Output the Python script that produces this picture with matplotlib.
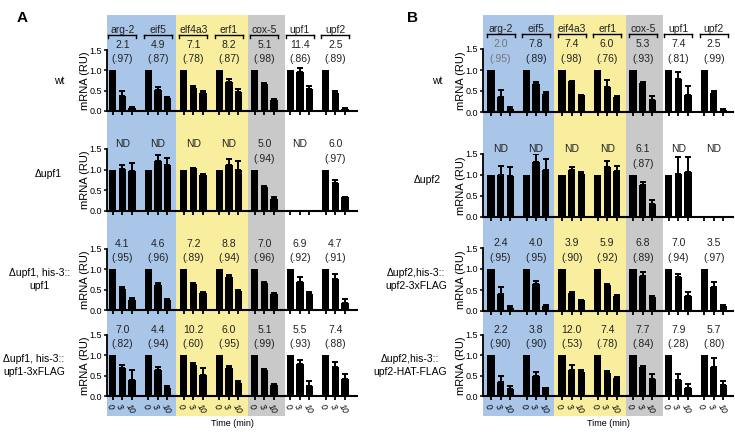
import numpy as np
import matplotlib
matplotlib.use("Agg")
import matplotlib.pyplot as plt

plt.rcParams['font.family'] = ['Liberation Sans', 'DejaVu Sans']

genes_A = ["arg-2", "eif5", "elf4a3", "erf1", "cox-5", "upf1", "upf2"]
genes_B = ["arg-2", "eif5", "eif4a3", "erf1", "cox-5", "upf1", "upf2"]
times = ["0", "3", "10"]

# Panel A values (per gene: 0, 3, 10 min) and upper error bars
A_wt = [[1, .37, .08], [1, .52, .33], [1, .57, .44], [1, .72, .46], [1, .67, .27], [1, .95, .55], [1, .45, .05]]
A_wt_err = [[0, .13, .03], [0, .06, .02], [0, .05, .04], [0, .06, .07], [0, .03, .02], [0, .10, .06], [0, .04, .02]]
A_wt_lbl = ["2.1\n(.97)", "4.9\n(.87)", "7.1\n(.78)", "8.2\n(.87)", "5.1\n(.98)", "11.4\n(.86)", "2.5\n(.89)"]

A_d = [[1, 1.02, .97], [1, 1.21, 1.12], [1, 1.03, .87], [1, 1.11, .99], [1, .58, .30], [0, 0, 0], [1, .67, .34]]
A_d_err = [[0, .10, .20], [0, .14, .16], [0, .02, .02], [0, .16, .21], [0, .03, .04], [0, 0, 0], [0, .09, .01]]
A_d_lbl = ["ND", "ND", "ND", "ND", "5.0\n(.94)", "ND", "6.0\n(.97)"]

A_c1 = [[1, .52, .25], [1, .61, .24], [1, .63, .42], [1, .80, .46], [1, .67, .40], [1, .68, .39], [1, .76, .16]]
A_c1_err = [[0, .05, .05], [0, .06, .02], [0, .04, .03], [0, .06, .03], [0, .01, .02], [0, .13, .05], [0, .12, .10]]
A_c1_lbl = ["4.1\n(.95)", "4.6\n(.96)", "7.2\n(.89)", "8.8\n(.94)", "7.0\n(.96)", "6.9\n(.92)", "4.7\n(.91)"]

A_c2 = [[1, .70, .39], [1, .63, .20], [1, .76, .52], [1, .70, .33], [1, .65, .28], [1, .79, .24], [1, .71, .41]]
A_c2_err = [[0, .06, .24], [0, .08, .05], [0, .04, .18], [0, .05, .03], [0, .01, .01], [0, .09, .12], [0, .12, .12]]
A_c2_lbl = ["7.0\n(.82)", "4.4\n(.94)", "10.2\n(.60)", "6.0\n(.95)", "5.1\n(.99)", "5.5\n(.93)", "7.4\n(.88)"]

# Panel B
B_wt = [[1, .35, .08], [1, .67, .44], [1, .73, .40], [1, .60, .36], [1, .68, .28], [1, .78, .40], [1, .45, .04]]
B_wt_err = [[0, .17, .05], [0, .04, .04], [0, .01, .01], [0, .17, .02], [0, .03, .09], [0, .17, .21], [0, .04, .02]]
B_wt_lbl = ["2.0\n(.95)", "7.8\n(.89)", "7.4\n(.98)", "6.0\n(.76)", "5.3\n(.93)", "7.4\n(.81)", "2.5\n(.99)"]

B_d = [[1, 1.0, .98], [1, 1.32, 1.13], [1, 1.12, 1.02], [1, 1.20, 1.09], [1, .75, .31], [1, 1.02, 1.07], [0, 0, 0]]
B_d_err = [[0, .22, .20], [0, .18, .26], [0, .07, .05], [0, .13, .13], [0, .09, .09], [0, .41, .37], [0, 0, 0]]
B_d_lbl = ["ND", "ND", "ND", "ND", "6.1\n(.87)", "ND", "ND"]

B_c1 = [[1, .40, .07], [1, .64, .13], [1, .44, .26], [1, .61, .35], [1, .84, .33], [1, .82, .35], [1, .57, .12]]
B_c1_err = [[0, .18, .05], [0, .07, .01], [0, .02, .01], [0, .04, .02], [0, .08, .03], [0, .07, .10], [0, .13, .02]]
B_c1_lbl = ["2.4\n(.95)", "4.0\n(.95)", "3.9\n(.90)", "5.9\n(.92)", "6.8\n(.89)", "7.0\n(.94)", "3.5\n(.97)"]

B_c2 = [[1, .34, .17], [1, .49, .23], [1, .65, .58], [1, .57, .44], [1, .71, .42], [1, .40, .19], [1, .72, .28]]
B_c2_err = [[0, .14, .08], [0, .09, .0], [0, .11, .06], [0, .04, .03], [0, .03, .11], [0, .13, .10], [0, .21, .09]]
B_c2_lbl = ["2.2\n(.90)", "3.8\n(.90)", "12.0\n(.53)", "7.4\n(.78)", "7.7\n(.84)", "7.9\n(.28)", "5.7\n(.80)"]

row_labels_A = ["wt", "\u0394upf1", "\u0394upf1, his-3::\nupf1", "\u0394upf1, his-3::\nupf1-3xFLAG"]
row_labels_B = ["wt", "\u0394upf2", "\u0394upf2,his-3::\nupf2-3xFLAG", "\u0394upf2,his-3::\nupf2-HAT-FLAG"]

W, H = 735, 432
fig = plt.figure(figsize=(W / 100, H / 100), dpi=100)

BLUE, YELLOW, GRAY = "#a9c6e8", "#f8ee9e", "#c9c9c9"
GSP = 3.7


def fax(left, top, right, bottom):
    return fig.add_axes([left / W, 1 - bottom / H, (right - left) / W, (bottom - top) / H])


def panel(left, right, xlim, rows_px, rows, labels_row, gene_names, letter, letter_x, lbl_x, gray_first=False):
    bg = fax(left, 15, right, 416)
    bg.set_xlim(*xlim)
    bg.set_ylim(0, 1)
    bg.axis("off")
    bg.axvspan(xlim[0], 6.55, color=BLUE, lw=0)
    bg.axvspan(6.55, 14.1, color=YELLOW, lw=0)
    bg.axvspan(14.1, 17.9, color=GRAY, lw=0)
    bg.set_zorder(0)
    n = len(rows)
    for r, ((y0, y15), (vals, errs, lbls), rl) in enumerate(zip(rows_px, rows, labels_row)):
        ax = fax(left, y15, right, y0)
        ax.set_zorder(1)
        ax.patch.set_alpha(0)
        xs, hs, es = [], [], []
        for g in range(7):
            for t in range(3):
                xs.append(g * GSP + t)
                hs.append(vals[g][t])
                es.append(errs[g][t])
        es = np.array(es)
        ax.bar(xs, hs, width=0.76, color="black", zorder=2)
        mask = es > 0
        ax.errorbar(np.array(xs)[mask], np.array(hs)[mask],
                    yerr=[np.zeros(mask.sum()), es[mask]], fmt="none",
                    ecolor="black", elinewidth=1.4, capsize=2.5, capthick=1.4, zorder=3)
        ax.set_xlim(*xlim)
        ax.set_ylim(0, 1.5)
        ax.set_yticks([0, 0.5, 1.0, 1.5])
        ax.set_yticklabels(["0.0", "0.5", "1.0", "1.5"], fontsize=6.5)
        ax.set_xticks(xs)
        ax.tick_params(axis="x", direction="out", length=3, width=1.3)
        ax.tick_params(axis="y", direction="out", length=2.5, width=1.1, pad=1)
        for s in ("top", "right"):
            ax.spines[s].set_visible(False)
        ax.spines["bottom"].set_linewidth(1.5)
        ax.spines["left"].set_linewidth(1.3)
        ax.set_ylabel("mRNA (RU)", fontsize=8, labelpad=0)
        if r == n - 1:
            ax.set_xticklabels(times * 7, fontsize=6.3, rotation=-60, ha="left",
                               va="top", rotation_mode="anchor", style="italic")
            ax.tick_params(axis="x", pad=2)
        else:
            ax.set_xticklabels([])
        for g in range(7):
            cx = g * GSP + 1
            col = "#222222"
            if gray_first and r == 0 and g == 0:
                col = "#777777"
            txt = lbls[g]
            if txt == "ND":
                ax.text(cx, 1.62, "ND", ha="center", va="center", fontsize=7.5, color=col, clip_on=False)
            else:
                a, b = txt.split("\n")
                ax.text(cx, 1.63, a, ha="center", va="center", fontsize=7.5, color=col, clip_on=False)
                ax.text(cx, 1.27, b, ha="center", va="center", fontsize=7.5, color=col, clip_on=False)
            if r == 0:
                ax.text(cx, 1.98, gene_names[g], ha="center", va="center", fontsize=7.5, color="#222222", clip_on=False)
                ax.plot([g * GSP - 0.45, g * GSP + 2.45], [1.86, 1.86], color="black", lw=1.0, clip_on=False)
                ax.plot([g * GSP - 0.45, g * GSP - 0.45], [1.86, 1.79], color="black", lw=1.0, clip_on=False)
                ax.plot([g * GSP + 2.45, g * GSP + 2.45], [1.86, 1.79], color="black", lw=1.0, clip_on=False)
        yc = (y0 + y15) / 2
        if r == 1:
            yc -= 6
        fig.text(lbl_x[r] / W, 1 - yc / H, rl, ha="center", va="center", fontsize=7.5,
                 multialignment="center", linespacing=1.3)
    fig.text(letter_x / W, 1 - 18 / H, letter, fontsize=11, fontweight="bold", ha="center", va="center")
    fig.text((left + right) / 2 / W, 1 - 424 / H, "Time (min)", fontsize=6.5, ha="center", va="center")


rows_A_px = [(111, 50), (211, 149), (310, 249), (396, 335)]
rows_B_px = [(112, 49), (217, 154), (311, 248), (396, 335)]

rows_A = [(A_wt, A_wt_err, A_wt_lbl), (A_d, A_d_err, A_d_lbl),
          (A_c1, A_c1_err, A_c1_lbl), (A_c2, A_c2_err, A_c2_lbl)]
rows_B = [(B_wt, B_wt_err, B_wt_lbl), (B_d, B_d_err, B_d_lbl),
          (B_c1, B_c1_err, B_c1_lbl), (B_c2, B_c2_err, B_c2_lbl)]

panel(107, 357, (-0.6, 25.45), rows_A_px, rows_A, row_labels_A, genes_A, "A", 22, [59, 48, 40, 34])
panel(483, 733, (-0.83, 25.2), rows_B_px, rows_B, row_labels_B, genes_B, "B", 413, [437, 427, 416, 410],
      gray_first=True)

fig.savefig("out.png", dpi=100)
